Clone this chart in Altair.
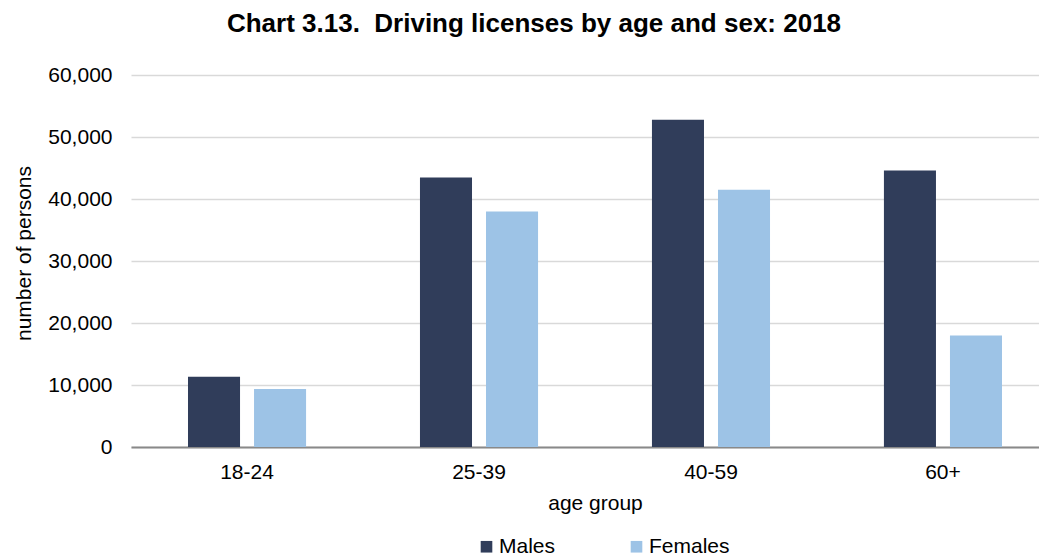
import altair as alt
import pandas as pd

age_groups = ["18-24", "25-39", "40-59", "60+"]
sexes = ["Males", "Females"]
males = [11350, 43450, 52800, 44580]
females = [9350, 38000, 41500, 17970]
colors = ["#303D5A", "#9DC3E6"]
y_ticks = [0, 10000, 20000, 30000, 40000, 50000, 60000]

rows = []
for i, g in enumerate(age_groups):
    rows.append({"age": g, "sex": "Males", "value": males[i]})
    rows.append({"age": g, "sex": "Females", "value": females[i]})
df = pd.DataFrame(rows)

FONT = "Liberation Sans"
FS = 21

chart = (
    alt.Chart(df)
    .mark_bar()
    .encode(
        x=alt.X(
            "age:N",
            sort=age_groups,
            scale=alt.Scale(range=[0, 928], paddingInner=0.491, paddingOuter=0.2457),
            axis=alt.Axis(
                title="age group",
                labelAngle=0,
                ticks=False,
                labelPadding=14,
                labelFontSize=FS,
                labelColor="#000000",
                labelFont=FONT,
                domainColor="#898989",
                domainWidth=2,
                titleFontSize=FS,
                titleFontWeight="normal",
                titleFont=FONT,
                titleColor="#000000",
                titleX=464,
                titleY=62,
                titleAlign="center",
                titleBaseline="alphabetic",
            ),
        ),
        xOffset=alt.XOffset(
            "sex:N", sort=sexes, scale=alt.Scale(paddingInner=0.212, paddingOuter=0)
        ),
        y=alt.Y(
            "value:Q",
            scale=alt.Scale(domain=[0, 60000], nice=False),
            axis=alt.Axis(
                title="number of persons",
                values=y_ticks,
                format=",.0f",
                grid=True,
                gridColor="#D9D9D9",
                gridWidth=1.5,
                domain=False,
                ticks=False,
                labelPadding=19,
                labelFontSize=FS,
                labelColor="#000000",
                labelFont=FONT,
                titleFontSize=FS,
                titleFontWeight="normal",
                titleFont=FONT,
                titleColor="#000000",
                titleX=-107,
                titleY=178,
                titleAlign="center",
                titleBaseline="middle",
            ),
        ),
        color=alt.Color(
            "sex:N",
            sort=sexes,
            scale=alt.Scale(domain=sexes, range=colors),
            legend=alt.Legend(
                title=None,
                orient="none",
                direction="horizontal",
                legendX=345,
                legendY=461,
                symbolType="square",
                symbolSize=135,
                symbolStrokeWidth=0,
                labelFontSize=FS,
                labelFont=FONT,
                labelColor="#000000",
                labelOffset=2,
                columnPadding=70,
            ),
        ),
    )
    .properties(
        width=908,
        height=372,
        autosize=alt.AutoSizeParams(type="none"),
        padding={"left": 123, "top": 67, "right": 0, "bottom": 107},
        title=alt.TitleParams(
            "Chart 3.13.\u00a0 Driving licenses by age and sex: 2018",
            fontSize=26,
            fontWeight="bold",
            font=FONT,
            color="#000000",
            anchor="middle",
            frame="group",
            dx=-51,
            offset=6,
            baseline="alphabetic",
        ),
    )
    .configure_view(stroke=None)
)

chart.save("out.html", embed_options={"renderer": "svg", "actions": False})
